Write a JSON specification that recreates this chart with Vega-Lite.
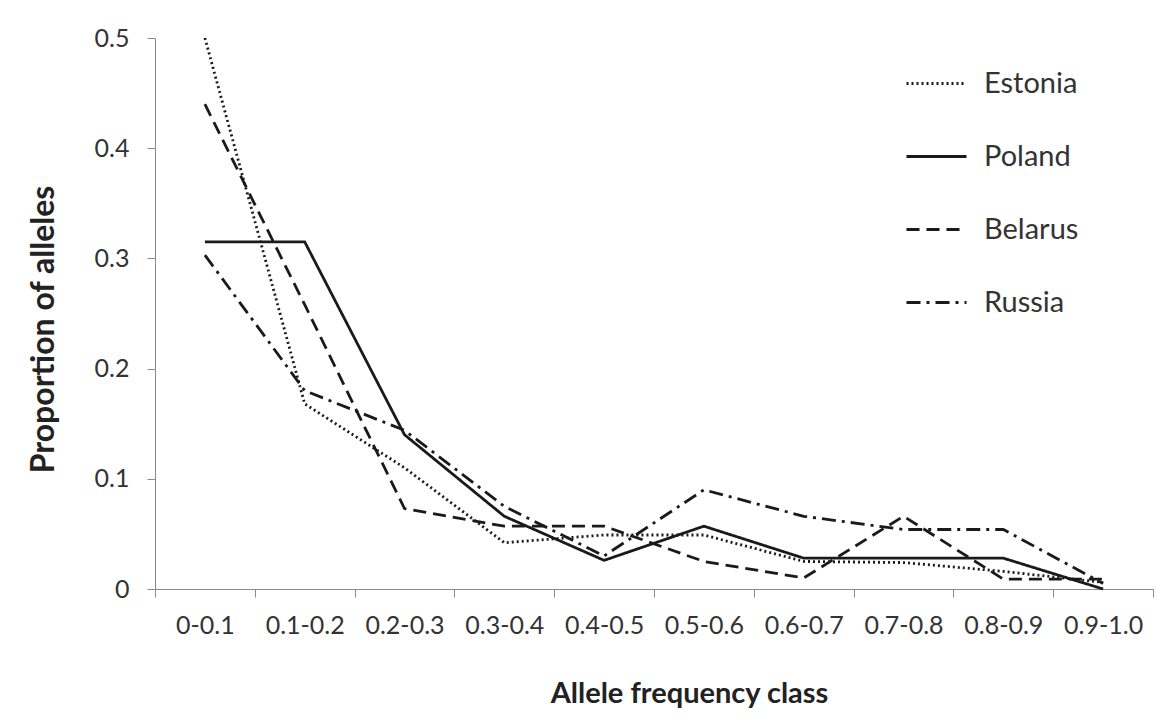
{
  "$schema": "https://vega.github.io/schema/vega-lite/v6.json",
  "autosize": "none",
  "padding": {"left": 155, "top": 38, "right": 20, "bottom": 137},
  "width": 998,
  "height": 551,
  "background": "white",
  "config": {
    "view": {"stroke": null},
    "font": "Lato",
    "axis": {"grid": false, "domainColor": "#8a8a8a", "tickColor": "#8a8a8a", "labelColor": "#333", "titleColor": "#222", "labelFont": "Lato", "titleFont": "Lato"}
  },
  "data": {
    "values": [
      {"cls": "0-0.1", "country": "Estonia", "p": 0.5},
      {"cls": "0.1-0.2", "country": "Estonia", "p": 0.168},
      {"cls": "0.2-0.3", "country": "Estonia", "p": 0.11},
      {"cls": "0.3-0.4", "country": "Estonia", "p": 0.042},
      {"cls": "0.4-0.5", "country": "Estonia", "p": 0.049},
      {"cls": "0.5-0.6", "country": "Estonia", "p": 0.049},
      {"cls": "0.6-0.7", "country": "Estonia", "p": 0.025},
      {"cls": "0.7-0.8", "country": "Estonia", "p": 0.024},
      {"cls": "0.8-0.9", "country": "Estonia", "p": 0.016},
      {"cls": "0.9-1.0", "country": "Estonia", "p": 0.006},
      {"cls": "0-0.1", "country": "Poland", "p": 0.315},
      {"cls": "0.1-0.2", "country": "Poland", "p": 0.315},
      {"cls": "0.2-0.3", "country": "Poland", "p": 0.14},
      {"cls": "0.3-0.4", "country": "Poland", "p": 0.066},
      {"cls": "0.4-0.5", "country": "Poland", "p": 0.026},
      {"cls": "0.5-0.6", "country": "Poland", "p": 0.057},
      {"cls": "0.6-0.7", "country": "Poland", "p": 0.028},
      {"cls": "0.7-0.8", "country": "Poland", "p": 0.028},
      {"cls": "0.8-0.9", "country": "Poland", "p": 0.028},
      {"cls": "0.9-1.0", "country": "Poland", "p": 0.0},
      {"cls": "0-0.1", "country": "Belarus", "p": 0.44},
      {"cls": "0.1-0.2", "country": "Belarus", "p": 0.258},
      {"cls": "0.2-0.3", "country": "Belarus", "p": 0.073},
      {"cls": "0.3-0.4", "country": "Belarus", "p": 0.057},
      {"cls": "0.4-0.5", "country": "Belarus", "p": 0.057},
      {"cls": "0.5-0.6", "country": "Belarus", "p": 0.025},
      {"cls": "0.6-0.7", "country": "Belarus", "p": 0.01},
      {"cls": "0.7-0.8", "country": "Belarus", "p": 0.066},
      {"cls": "0.8-0.9", "country": "Belarus", "p": 0.009},
      {"cls": "0.9-1.0", "country": "Belarus", "p": 0.009},
      {"cls": "0-0.1", "country": "Russia", "p": 0.303},
      {"cls": "0.1-0.2", "country": "Russia", "p": 0.18},
      {"cls": "0.2-0.3", "country": "Russia", "p": 0.144},
      {"cls": "0.3-0.4", "country": "Russia", "p": 0.075},
      {"cls": "0.4-0.5", "country": "Russia", "p": 0.03},
      {"cls": "0.5-0.6", "country": "Russia", "p": 0.09},
      {"cls": "0.6-0.7", "country": "Russia", "p": 0.066},
      {"cls": "0.7-0.8", "country": "Russia", "p": 0.054},
      {"cls": "0.8-0.9", "country": "Russia", "p": 0.054},
      {"cls": "0.9-1.0", "country": "Russia", "p": 0.005}
    ]
  },
  "mark": {"type": "line", "color": "#1a1a1a", "strokeWidth": 2.8},
  "encoding": {
    "x": {
      "field": "cls", "type": "ordinal", "sort": null,
      "scale": {"type": "band", "paddingInner": 0, "paddingOuter": 0},
      "axis": {"title": "Allele frequency class", "labelAngle": 0, "tickBand": "extent", "labelFontSize": 25, "labelPadding": 16, "tickSize": 8, "titleFontSize": 29, "titleFontWeight": "bold", "titlePadding": 41, "titleX": 534, "titleAlign": "center"}
    },
    "y": {
      "field": "p", "type": "quantitative",
      "scale": {"domain": [0, 0.5], "nice": false, "zero": true},
      "axis": {"title": "Proportion of alleles", "values": [0, 0.1, 0.2, 0.3, 0.4, 0.5], "format": "~g", "labelFontSize": 25, "labelPadding": 18, "tickSize": 8, "titleFontSize": 32, "titleFontWeight": "bold", "titlePadding": 34, "titleY": 291, "titleAlign": "center"}
    },
    "strokeDash": {
      "field": "country", "type": "nominal",
      "scale": {"domain": ["Estonia", "Poland", "Belarus", "Russia"], "range": [[2, 3], [1, 0], [13, 7], [14, 6, 3, 6]]},
      "legend": {"title": null, "orient": "none", "legendX": 750, "legendY": 14, "symbolType": "stroke", "symbolSize": 3600, "symbolStrokeWidth": 2.8, "symbolStrokeColor": "#1a1a1a", "labelFontSize": 29, "labelColor": "#333", "rowPadding": 26, "labelOffset": 16}
    },
    "detail": {"field": "country"}
  }
}
